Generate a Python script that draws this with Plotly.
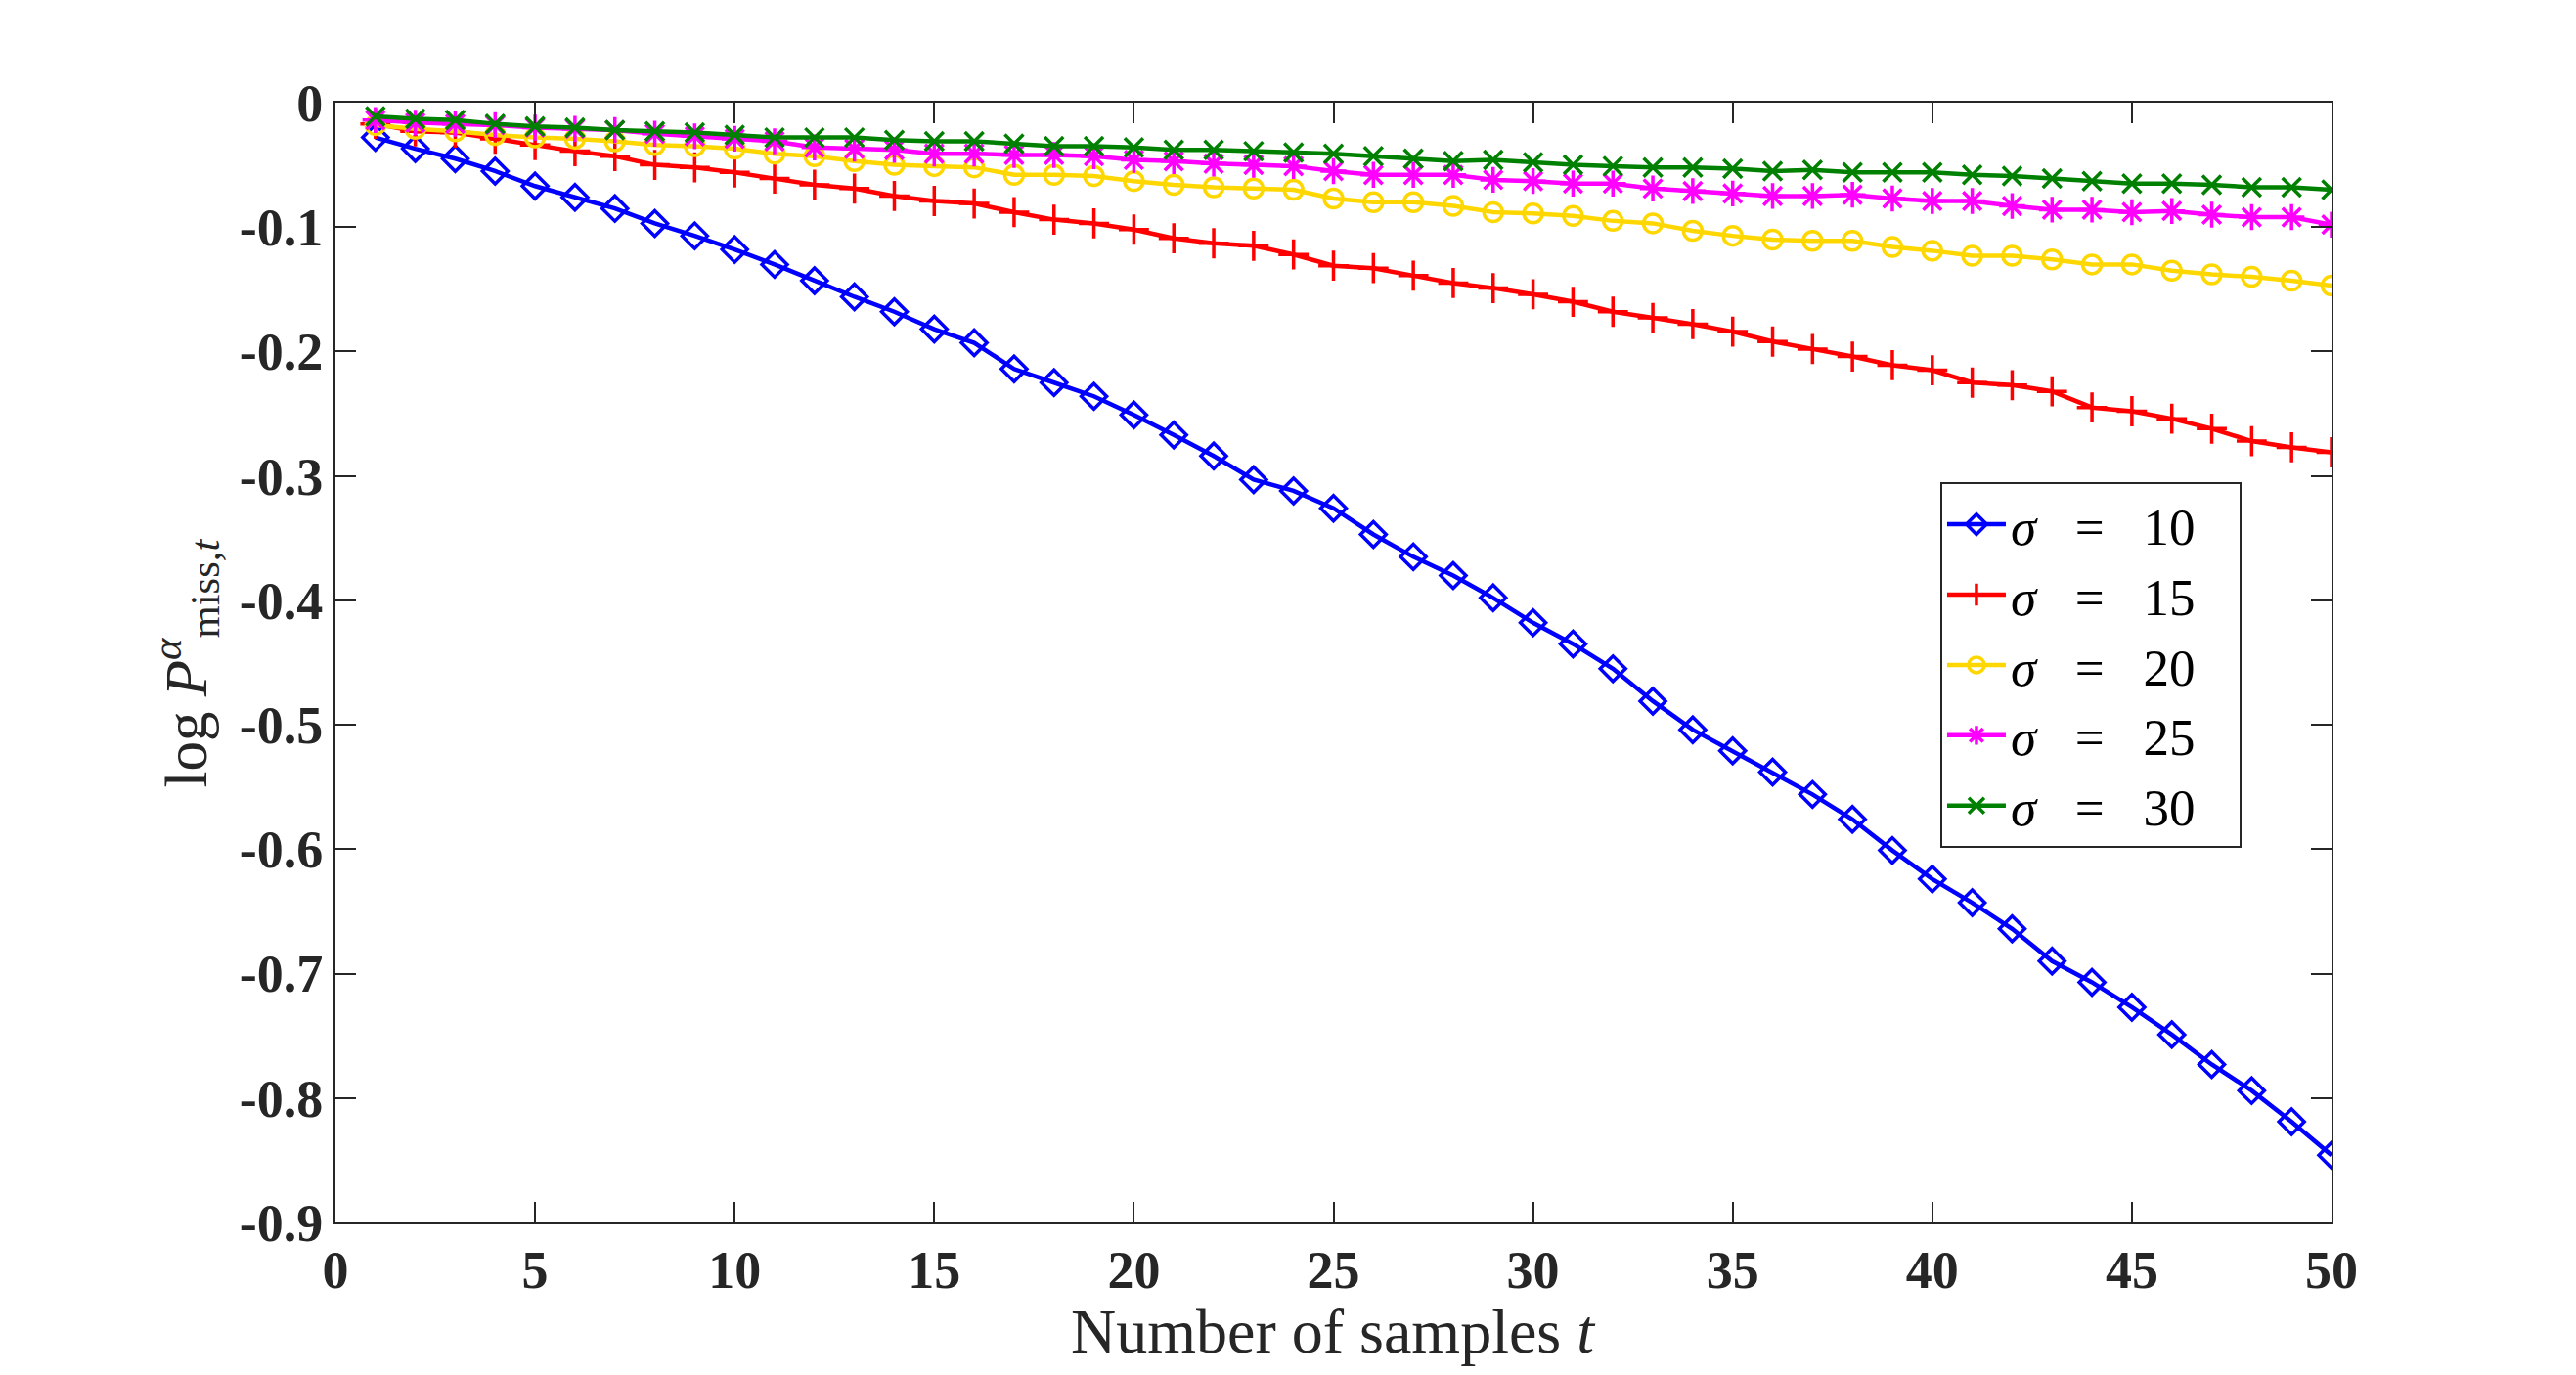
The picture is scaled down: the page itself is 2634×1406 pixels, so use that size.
import plotly.graph_objects as go

# samples t = 1..50
t = list(range(1, 51))

sigma10 = [-0.028, -0.037, -0.045, -0.055, -0.067, -0.076, -0.085, -0.097, -0.107, -0.118,
           -0.130, -0.143, -0.156, -0.168, -0.182, -0.193, -0.214, -0.225, -0.236, -0.251,
           -0.267, -0.284, -0.303, -0.312, -0.326, -0.347, -0.365, -0.380, -0.398, -0.418,
           -0.435, -0.455, -0.481, -0.504, -0.521, -0.538, -0.556, -0.576, -0.601, -0.624,
           -0.643, -0.664, -0.690, -0.707, -0.727, -0.749, -0.773, -0.794, -0.819, -0.846]
sigma15 = [-0.017, -0.023, -0.024, -0.029, -0.034, -0.039, -0.043, -0.050, -0.052, -0.056,
           -0.061, -0.066, -0.069, -0.075, -0.079, -0.081, -0.088, -0.094, -0.097, -0.102,
           -0.109, -0.113, -0.115, -0.122, -0.131, -0.133, -0.139, -0.145, -0.149, -0.154,
           -0.160, -0.168, -0.173, -0.178, -0.184, -0.192, -0.198, -0.204, -0.211, -0.215,
           -0.225, -0.227, -0.232, -0.245, -0.248, -0.254, -0.262, -0.272, -0.277, -0.281]
sigma20 = [-0.018, -0.021, -0.023, -0.026, -0.028, -0.029, -0.031, -0.034, -0.035, -0.037,
           -0.041, -0.043, -0.047, -0.050, -0.051, -0.052, -0.058, -0.058, -0.059, -0.063,
           -0.066, -0.068, -0.069, -0.070, -0.077, -0.080, -0.080, -0.083, -0.088, -0.089,
           -0.091, -0.095, -0.097, -0.103, -0.107, -0.110, -0.111, -0.111, -0.116, -0.119,
           -0.123, -0.123, -0.126, -0.130, -0.130, -0.135, -0.138, -0.140, -0.143, -0.147]
sigma25 = [-0.014, -0.016, -0.017, -0.018, -0.020, -0.021, -0.022, -0.025, -0.027, -0.029,
           -0.031, -0.036, -0.037, -0.038, -0.041, -0.041, -0.042, -0.042, -0.043, -0.046,
           -0.047, -0.049, -0.050, -0.051, -0.055, -0.058, -0.058, -0.058, -0.062, -0.063,
           -0.065, -0.065, -0.069, -0.071, -0.073, -0.075, -0.075, -0.074, -0.077, -0.079,
           -0.079, -0.083, -0.086, -0.086, -0.088, -0.087, -0.090, -0.092, -0.092, -0.098]
sigma30 = [-0.011, -0.013, -0.014, -0.017, -0.019, -0.020, -0.022, -0.023, -0.024, -0.026,
           -0.028, -0.028, -0.028, -0.030, -0.031, -0.031, -0.033, -0.035, -0.035, -0.036,
           -0.038, -0.038, -0.039, -0.040, -0.041, -0.043, -0.045, -0.047, -0.046, -0.048,
           -0.050, -0.051, -0.052, -0.052, -0.053, -0.055, -0.054, -0.056, -0.056, -0.056,
           -0.058, -0.059, -0.061, -0.063, -0.065, -0.065, -0.066, -0.068, -0.068, -0.070]

names = ["10", "15", "20", "25", "30"]
xtick_vals = [0, 5, 10, 15, 20, 25, 30, 35, 40, 45, 50]
ytick_vals = [0, -0.1, -0.2, -0.3, -0.4, -0.5, -0.6, -0.7, -0.8, -0.9]
ytick_text = ["0", "-0.1", "-0.2", "-0.3", "-0.4", "-0.5", "-0.6", "-0.7", "-0.8", "-0.9"]

series = [sigma10, sigma15, sigma20, sigma25, sigma30]
colors = ["#0000FF", "#FF0000", "#FFD700", "#FF00FF", "#008000"]
symbols = ["diamond-open", "cross-thin-open", "circle-open", "asterisk-open", "x-thin-open"]
sizes = [20, 22, 19, 22, 19]

ink = "#262626"
serif = "Liberation Serif"
sp = "\u00a0"

fig = go.Figure()
for vals, nm, c, sym, sz in zip(series, names, colors, symbols, sizes):
    fig.add_trace(go.Scatter(
        x=t, y=vals, mode="lines+markers",
        name="<i>σ</i>" + sp * 3 + "=" + sp * 3 + nm + sp * 3,
        line=dict(color=c, width=4.5),
        marker=dict(symbol=sym, size=sz, color=c, line=dict(color=c, width=3.5)),
    ))

axis_common = dict(
    showline=True, linecolor=ink, linewidth=2, mirror="ticks",
    ticks="inside", ticklen=21, tickwidth=1.5, tickcolor=ink,
    showgrid=False, zeroline=False,
    tickfont=dict(family=serif, size=54, color=ink, weight="bold"),
)

fig.update_xaxes(range=[0, 50], tickvals=xtick_vals, **axis_common)
fig.update_yaxes(range=[-0.9, 0], tickvals=ytick_vals, ticktext=ytick_text, **axis_common)

fig.add_annotation(text="Number of samples <i>t</i>", xref="paper", yref="paper",
                   x=0.5, y=-0.097, xanchor="center", yanchor="middle", showarrow=False,
                   font=dict(family=serif, size=64, color=ink))
fig.add_annotation(text="log <i>P</i><sup><i>α</i></sup><sub>miss,<i>t</i></sub>",
                   xref="paper", yref="paper", x=-0.075, y=0.50, textangle=-90,
                   xanchor="center", yanchor="middle", showarrow=False,
                   font=dict(family=serif, size=61, color=ink))

# page body has an 8px margin, so the figure is shrunk to fit the window
fig.update_layout(
    width=2618, height=1390,
    margin=dict(l=335, r=242, t=97, b=148),
    paper_bgcolor="white", plot_bgcolor="white",
    legend=dict(x=0.804, y=0.661, xanchor="left", yanchor="top",
                bordercolor=ink, borderwidth=2, bgcolor="white",
                font=dict(family=serif, size=53, color="black"),
                itemwidth=60, tracegroupgap=0),
    showlegend=True,
)

fig.write_html("out.html")
